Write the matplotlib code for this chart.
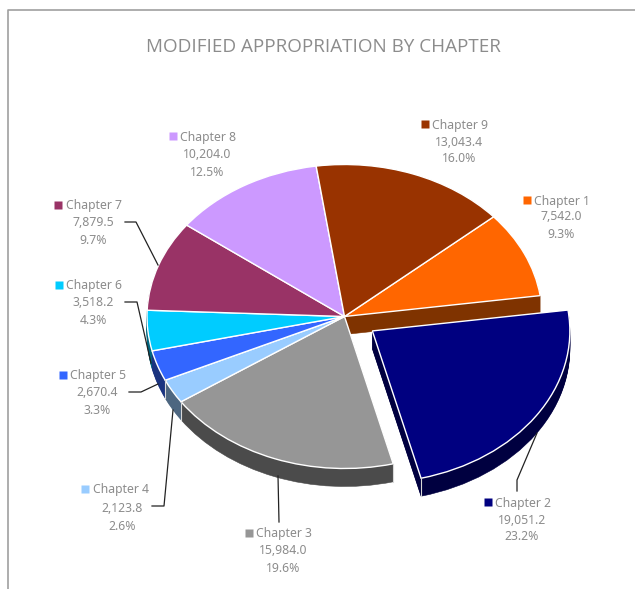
import numpy as np
import matplotlib
matplotlib.use('Agg')
import matplotlib.pyplot as plt

chapters = ['Chapter 1', 'Chapter 2', 'Chapter 3', 'Chapter 4', 'Chapter 5',
            'Chapter 6', 'Chapter 7', 'Chapter 8', 'Chapter 9']
values = [7542.0, 19051.2, 15984.0, 2123.8, 2670.4, 3518.2, 7879.5, 10204.0, 13043.4]
percents = ['9.3%', '23.2%', '19.6%', '2.6%', '3.3%', '4.3%', '9.7%', '12.5%', '16.0%']
explode = [0, 0.17, 0, 0, 0, 0, 0, 0, 0]
colors = ['#FF6600', '#000080', '#969696', '#99CCFF', '#3366FF', '#00CCFF', '#993366', '#CC99FF', '#993300']
side_colors = ['#7F3300', '#000040', '#4B4B4B', '#4D6680', '#1A3380', '#006680', '#4D1A33', '#664D80', '#4D1A00']

W, H = 635, 589
CX, CY = 344.5, 316.5
RX, RY = 197.5, 152
DEPTH = 18
START = 41
TEXT = '#8C8C8C'

plt.rcParams['font.family'] = ['Noto Sans', 'DejaVu Sans']
fig = plt.figure(figsize=(W / 100, H / 100), dpi=100)

# overlay in pixel coords for frame, labels, leader lines
over = fig.add_axes([0, 0, 1, 1], zorder=3)
over.set_xlim(0, W)
over.set_ylim(H, 0)
over.axis('off')

# pie axes: one data unit is RX px across and RY px down, so the pie looks tilted
ax = fig.add_axes([(CX - 1.4 * RX) / W, 1 - (CY + 1.4 * RY) / H, 2.8 * RX / W, 2.8 * RY / H], zorder=1)


def draw_pie(cols, dy=0.0, **wedge):
    w, _ = ax.pie(values, colors=cols, explode=explode, startangle=START, counterclock=False,
                  center=(0, -dy / RY), radius=1, wedgeprops=wedge)
    return w


for d in range(DEPTH, 0, -1):
    for w in draw_pie(side_colors, d, linewidth=0.4):
        w.set_edgecolor(w.get_facecolor())
top = draw_pie(colors, 0, linewidth=1.0, edgecolor='white')

# light seams on the rim where two side faces meet
seams = [(top[1], top[1].theta1), (top[2], top[2].theta2), (top[3], top[3].theta1), (top[3], top[3].theta2)]
for w, t in seams:
    a = np.radians(t)
    x = w.center[0] + np.cos(a)
    y = w.center[1] + np.sin(a)
    ax.plot([x, x], [y, y - DEPTH / RY], color='#D8D8D8', lw=0.8)

ax.set_aspect('auto')
ax.set_xlim(-1.4, 1.4)
ax.set_ylim(-1.4, 1.4)
ax.axis('off')

# frame
over.plot([8, 8, W], [H, 10, 10], color='#A0A0A0', lw=1.2)

over.text(323, 47, 'MODIFIED APPROPRIATION BY CHAPTER', ha='center', va='center',
          fontsize=13.6, color=TEXT, family='Open Sans')

# square x, name x, value centre x, rows y
label_pos = [
    (527, 534, 561, (201, 217, 234)),
    (488, 495, 522, (503, 521, 537)),
    (249, 256, 283, (534, 551, 568)),
    (85, 93, 122, (490, 508, 526)),
    (63, 70, 97, (376, 393, 411)),
    (59, 66, 93, (286, 303, 321)),
    (58, 66, 93, (206, 223, 241)),
    (173, 180, 207, (137, 154, 172)),
    (425, 432, 459, (125, 143, 159)),
]
for name, val, pct, col, (sx, nx, vx, ys) in zip(chapters, values, percents, colors, label_pos):
    over.plot(sx, ys[0] - 1, marker='s', ms=5.5, color=col, mec='none')
    over.text(nx, ys[0], name, ha='left', va='center', fontsize=8.8, color=TEXT)
    over.text(vx, ys[1], f'{val:,.1f}', ha='center', va='center', fontsize=8.8, color=TEXT)
    over.text(vx, ys[2], pct, ha='center', va='center', fontsize=8.8, color=TEXT)

leaders = [
    ([537, 517, 517], [433, 480, 491]),
    ([278, 279], [476, 522]),
    ([152, 164, 173], [506, 506, 410]),
    ([129, 141, 158], [392, 392, 384]),
    ([125, 137, 151], [302, 302, 363]),
    ([125, 136, 158], [222, 222, 265]),
]
for xs, ys in leaders:
    over.plot(xs, ys, color='#222222', lw=0.9)

fig.savefig('out.png', dpi=100)
